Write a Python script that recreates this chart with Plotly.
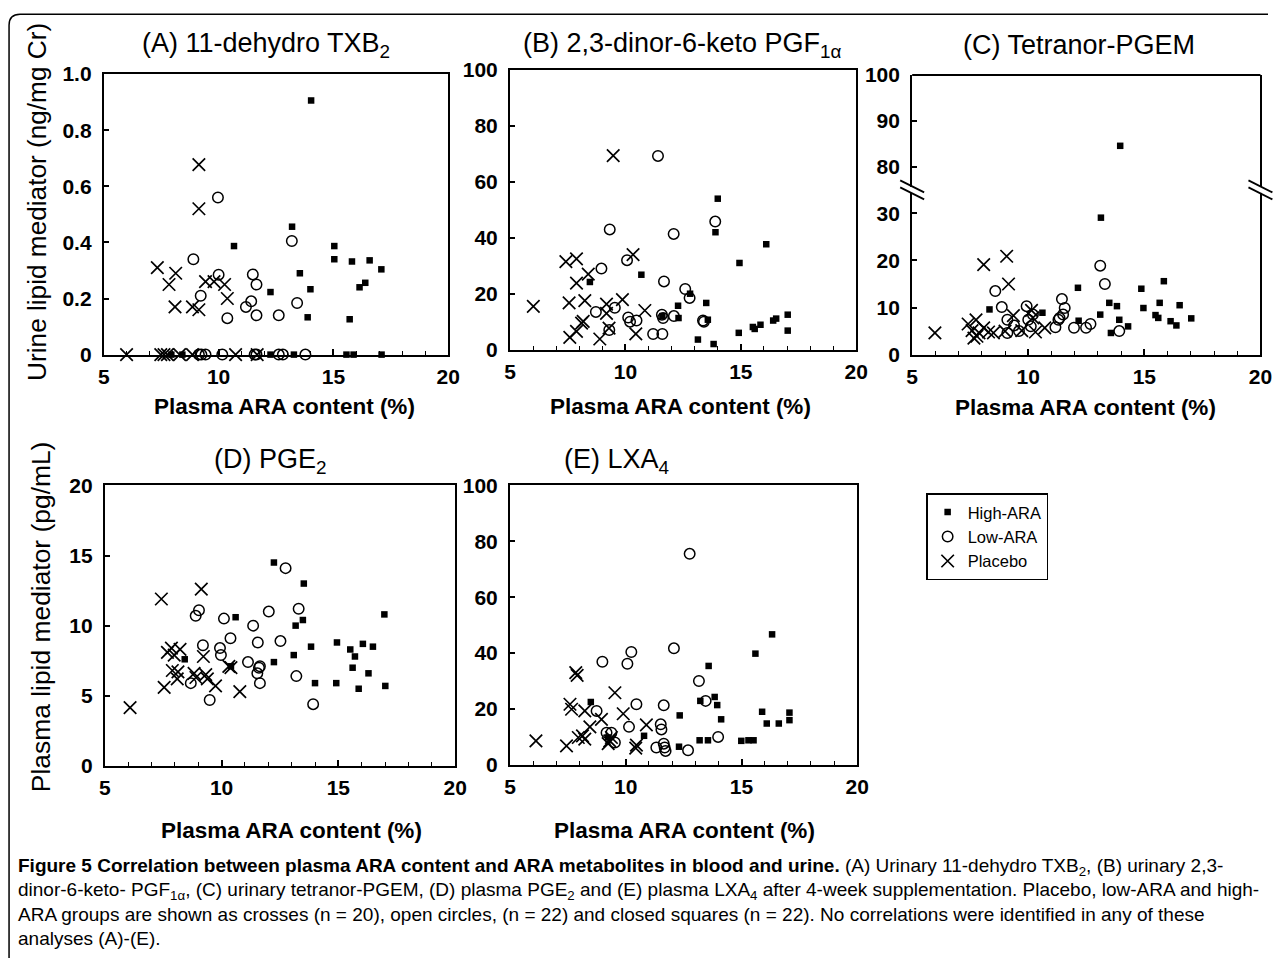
import plotly.graph_objects as go

W, H = 1280, 969

# ---------------- data ----------------
# (A) 11-dehydro TXB2 (ng/mg Cr)
A_placebo_x = [9.14, 9.14, 7.33, 7.84, 8.13, 8.10, 8.86, 9.14, 9.43, 9.80, 10.26, 10.38,
               5.99, 7.48, 7.62, 7.77, 8.30, 8.86, 10.74, 11.68]
A_placebo_y = [0.677, 0.52, 0.31, 0.25, 0.29, 0.17, 0.17, 0.16, 0.26, 0.26, 0.25, 0.20,
               0, 0, 0, 0, 0, 0, 0, 0]
A_low_x = [9.97, 8.90, 10.00, 9.22, 10.38, 11.49, 11.65, 11.42, 11.19, 11.65, 12.62, 13.19, 13.42,
           9.14, 9.43, 10.16, 11.57, 12.62, 12.80, 13.78, 9.25, 11.65]
A_low_y = [0.56, 0.34, 0.285, 0.21, 0.13, 0.286, 0.25, 0.19, 0.17, 0.14, 0.14, 0.405, 0.184,
           0, 0, 0, 0, 0, 0, 0, 0, 0]
A_high_x = [14.03, 10.67, 13.20, 12.26, 13.54, 14.00, 13.88, 15.04, 15.04, 15.71, 15.81, 16.58, 16.39,
            16.14, 17.09, 7.94, 8.42, 12.26, 13.28, 15.57, 15.88, 17.10]
A_high_y = [0.906, 0.387, 0.456, 0.223, 0.29, 0.233, 0.133, 0.387, 0.34, 0.126, 0.332, 0.336, 0.256,
            0.24, 0.304, 0, 0, 0, 0, 0, 0, 0]

# (B) 2,3-dinor-6-keto PGF1a
B_placebo_x = [9.47, 6.01, 7.42, 7.88, 7.88, 8.39, 7.56, 8.24, 7.59, 7.88, 8.17, 8.89, 9.18, 9.18,
               9.29, 9.87, 10.33, 10.84, 10.45, 8.10]
B_placebo_y = [69.4, 15.5, 31.5, 32.5, 23.8, 27.0, 16.7, 17.5, 4.4, 6.5, 10.1, 3.8, 16.3, 13.0,
               7.7, 17.9, 34.0, 14.0, 5.6, 9.5]
B_low_x = [11.41, 9.32, 8.96, 8.72, 9.54, 10.07, 10.12, 10.48, 11.67, 12.09, 12.59, 12.78, 11.58,
           11.63, 11.20, 11.60, 13.89, 13.36, 13.40, 10.20, 9.30, 12.10]
B_low_y = [69.3, 43.0, 29.0, 13.5, 15.0, 32.0, 11.5, 10.4, 24.4, 41.4, 21.7, 18.5, 12.5,
           11.3, 5.6, 5.6, 45.8, 10.4, 10.0, 10.0, 7.0, 12.0]
B_high_x = [14.00, 13.90, 16.10, 14.94, 10.69, 8.46, 12.28, 13.50, 12.30, 13.57, 13.14, 13.82,
            14.91, 15.52, 15.85, 16.53, 17.03, 17.03, 16.40, 15.60, 12.80, 11.60]
B_high_y = [54.0, 42.0, 37.7, 31.0, 26.8, 24.2, 15.7, 16.7, 11.3, 10.7, 3.6, 2.0,
            6.0, 8.1, 8.9, 11.1, 12.5, 6.8, 10.4, 7.4, 20.0, 12.0]

# (C) Tetranor-PGEM (broken axis 0-35 / 75-100)
C_placebo_x = [5.98, 8.08, 9.07, 9.15, 9.36, 7.41, 7.75, 7.58, 7.79, 8.08, 8.29, 7.88, 9.00, 9.72,
               10.14, 10.31, 10.71, 7.66, 8.50, 10.20]
C_placebo_y = [4.6, 19.1, 20.9, 15.0, 8.3, 6.5, 7.4, 5.1, 3.9, 5.7, 4.8, 4.6, 5.0, 5.1,
               9.4, 4.8, 5.7, 3.5, 4.6, 7.8]
C_low_x = [8.58, 8.86, 9.10, 9.10, 9.39, 9.93, 10.00, 10.11, 11.17, 11.35, 11.45, 11.57, 11.50,
           11.97, 12.49, 12.68, 13.10, 13.30, 13.92, 10.20, 11.30, 9.60]
C_low_y = [13.5, 10.1, 7.4, 4.6, 6.2, 10.3, 7.4, 6.0, 5.8, 7.8, 11.8, 9.9, 8.5,
           5.7, 5.7, 6.5, 18.9, 15.0, 5.0, 8.5, 7.4, 5.0]
C_high_x = [13.96, 13.13, 12.14, 12.17, 13.10, 13.49, 13.82, 13.92, 13.56, 14.87, 14.96, 15.84,
            15.66, 15.48, 16.13, 16.38, 16.52, 17.02, 8.33, 10.61, 15.60, 14.30]
C_high_y = [84.6, 29.1, 14.2, 7.2, 8.5, 11.0, 10.3, 7.4, 4.6, 14.0, 9.9, 15.6,
            11.0, 8.4, 7.1, 6.2, 10.5, 7.7, 9.6, 8.9, 7.8, 6.0]

# (D) PGE2 (pg/mL)
D_placebo_x = [6.08, 7.42, 7.54, 9.13, 7.68, 7.85, 7.97, 7.89, 8.13, 8.10, 8.82, 8.90, 9.22, 9.39,
               9.74, 10.31, 10.78, 8.22, 9.32, 10.40]
D_placebo_y = [4.15, 11.9, 5.6, 12.6, 8.1, 8.4, 7.9, 6.8, 6.7, 6.2, 6.6, 6.3, 7.8, 6.2,
               5.7, 7.1, 5.3, 8.3, 6.5, 7.0]
D_low_x = [12.74, 8.89, 9.03, 10.10, 11.35, 12.02, 13.30, 9.20, 9.93, 9.97, 10.38, 11.55, 12.52,
           8.68, 9.49, 11.13, 11.64, 11.53, 11.64, 13.20, 13.92, 11.60]
D_low_y = [14.1, 10.7, 11.1, 10.5, 10.0, 11.0, 11.2, 8.6, 8.4, 7.9, 9.1, 8.8, 8.9,
           5.9, 4.7, 7.4, 7.1, 6.6, 5.9, 6.4, 4.4, 7.0]
D_high_x = [12.24, 13.52, 10.60, 13.48, 13.17, 16.97, 13.83, 14.94, 15.51, 16.05, 16.48, 15.71,
            15.61, 16.29, 15.87, 17.01, 14.91, 14.00, 13.09, 12.24, 8.42, 10.40]
D_high_y = [14.5, 13.0, 10.6, 10.4, 10.0, 10.8, 8.5, 8.8, 8.3, 8.7, 8.5, 7.8,
            7.0, 6.6, 5.5, 5.7, 5.9, 5.9, 7.9, 7.4, 7.6, 7.1]

# (E) LXA4 (pg/mL)
E_placebo_x = [6.12, 7.44, 7.84, 7.90, 7.59, 7.66, 8.23, 8.45, 8.95, 9.53, 9.89, 7.95, 8.23, 9.31,
               9.24, 10.46, 10.43, 10.89, 8.13, 9.38]
E_placebo_y = [8.6, 6.8, 33.0, 32.0, 21.7, 19.9, 19.3, 13.6, 16.3, 25.8, 18.3, 9.8, 9.2, 8.6,
               7.6, 7.1, 6.0, 14.3, 10.4, 9.8]
E_low_x = [12.76, 8.99, 10.07, 10.24, 12.08, 13.16, 10.46, 11.64, 8.74, 9.17, 9.38, 9.53, 10.14,
           11.51, 11.54, 11.32, 11.68, 11.72, 12.69, 13.45, 13.99, 11.64]
E_low_y = [75.5, 36.9, 36.2, 40.4, 41.7, 30.0, 21.7, 21.3, 19.3, 11.5, 11.5, 8.0, 13.6,
           14.5, 12.7, 6.2, 6.2, 5.0, 5.2, 22.9, 10.0, 7.6]
E_high_x = [16.32, 15.60, 13.58, 13.84, 13.95, 14.12, 13.22, 8.49, 12.33, 10.79, 12.30, 13.19,
            13.55, 14.99, 15.52, 15.89, 16.09, 16.61, 17.07, 17.07, 9.24, 15.30]
E_high_y = [46.7, 39.8, 35.4, 24.3, 21.4, 16.3, 22.9, 22.5, 17.7, 10.4, 6.5, 8.8,
            8.8, 8.6, 8.8, 19.0, 14.8, 14.8, 18.7, 16.0, 9.8, 8.8]

panel_titles = ["(A) 11-dehydro TXB<sub>2</sub>", "(B) 2,3-dinor-6-keto PGF<sub>1\u03b1</sub>",
                "(C) Tetranor-PGEM", "(D) PGE<sub>2</sub>", "(E) LXA<sub>4</sub>"]
x_ticks = [5, 10, 15, 20]
A_yticks = [0, 0.2, 0.4, 0.6, 0.8, 1.0]
A_yticktext = ["0", "0.2", "0.4", "0.6", "0.8", "1.0"]
B_yticks = [0, 20, 40, 60, 80, 100]
C_low_yticks = [0, 10, 20, 30]
C_up_yticks = [80, 90, 100]
D_yticks = [0, 5, 10, 15, 20]
E_yticks = [0, 20, 40, 60, 80, 100]
group_names = ["High-ARA", "Low-ARA", "Placebo"]

# ---------------- helpers ----------------
FONT = "Liberation Sans, Arial, Helvetica, sans-serif"
# the page is rendered slightly shrunk/offset; map target screen pixels to paper fractions
SX, OX = 0.988, 5.0
SY, OY = 0.978, 10.0


def px(x):
    return (x / SX - OX) / W


def py(y):
    return 1 - (y / SY - OY) / H


fig = go.Figure()

styles = {
    "High-ARA": dict(symbol="square", size=6.5, color="black", line=dict(width=0)),
    "Low-ARA": dict(symbol="circle-open", size=10.5, color="black", line=dict(width=1.5, color="black")),
    "Placebo": dict(symbol="x-thin-open", size=12.5, color="black", line=dict(width=1.7, color="black")),
}

panel_data = [
    ("x", "y", [(A_high_x, A_high_y), (A_low_x, A_low_y), (A_placebo_x, A_placebo_y)]),
    ("x2", "y2", [(B_high_x, B_high_y), (B_low_x, B_low_y), (B_placebo_x, B_placebo_y)]),
    ("x3", None, [(C_high_x, C_high_y), (C_low_x, C_low_y), (C_placebo_x, C_placebo_y)]),
    ("x4", "y4", [(D_high_x, D_high_y), (D_low_x, D_low_y), (D_placebo_x, D_placebo_y)]),
    ("x5", "y5", [(E_high_x, E_high_y), (E_low_x, E_low_y), (E_placebo_x, E_placebo_y)]),
]

for pi, (xa, ya, groups) in enumerate(panel_data):
    for gi, (gx, gy) in enumerate(groups):
        name = group_names[gi]
        if ya is None:
            # broken axis: split into lower (0-35) and upper (75-100) axes
            lo = [(a, b) for a, b in zip(gx, gy) if b <= 35]
            hi = [(a, b) for a, b in zip(gx, gy) if b >= 75]
            for pts, yax in ((lo, "y3"), (hi, "y6")):
                if pts:
                    fig.add_trace(go.Scatter(
                        x=[p[0] for p in pts], y=[p[1] for p in pts], mode="markers",
                        marker=styles[name], xaxis=xa, yaxis=yax, showlegend=False,
                        legendgroup=name, name=name, cliponaxis=False))
        else:
            fig.add_trace(go.Scatter(
                x=gx, y=gy, mode="markers", marker=styles[name], xaxis=xa, yaxis=ya,
                name=name, legendgroup=name, showlegend=(pi == 0), cliponaxis=False))

tickfont = dict(family=FONT, size=21, color="black", weight="bold")


def xaxis_cfg(x0, x1, anchor):
    return dict(domain=[px(x0), px(x1)], anchor=anchor, range=[5, 20], tickvals=x_ticks,
                ticks="inside", ticklen=6, tickwidth=1.5, tickcolor="black",
                minor=dict(ticks="inside", ticklen=4, dtick=1, tickcolor="black", tickwidth=1),
                showline=True, linewidth=2, linecolor="black", mirror=True,
                showgrid=False, zeroline=False, tickfont=tickfont, ticklabelstandoff=2,
                fixedrange=True)


def yaxis_cfg(y_top, y_bot, anchor, rng, tv, tt=None, mirror=True):
    d = dict(domain=[py(y_bot), py(y_top)], anchor=anchor, range=rng, tickvals=tv,
             ticks="inside", ticklen=5, tickwidth=1.5, tickcolor="black",
             showline=True, linewidth=2, linecolor="black", mirror=mirror,
             showgrid=False, zeroline=False, tickfont=tickfont, ticklabelstandoff=6,
             fixedrange=True)
    if tt is not None:
        d["ticktext"] = tt
    return d


# panel boxes in target screen pixels (left, right, top, bottom)
A_box = (103, 448, 72, 353)
B_box = (510, 857, 68, 348)
C_box = (913, 1262, 73, 353)
C_break = 188
D_box = (104, 455, 484, 765)
E_box = (510, 858, 484, 764)

layout_axes = dict(
    xaxis=xaxis_cfg(A_box[0], A_box[1], "y"),
    yaxis=yaxis_cfg(A_box[2], A_box[3], "x", [0, 1], A_yticks, A_yticktext),
    xaxis2=xaxis_cfg(B_box[0], B_box[1], "y2"),
    yaxis2=yaxis_cfg(B_box[2], B_box[3], "x2", [0, 100], B_yticks),
    xaxis3=dict(xaxis_cfg(C_box[0], C_box[1], "y3"), mirror=False),
    yaxis3=yaxis_cfg(C_break, C_box[3], "x3", [0, 35], C_low_yticks),
    yaxis6=yaxis_cfg(C_box[2], C_break, "x3", [75, 100], C_up_yticks),
    xaxis4=xaxis_cfg(D_box[0], D_box[1], "y4"),
    yaxis4=yaxis_cfg(D_box[2], D_box[3], "x4", [0, 20], D_yticks),
    xaxis5=xaxis_cfg(E_box[0], E_box[1], "y5"),
    yaxis5=yaxis_cfg(E_box[2], E_box[3], "x5", [0, 100], E_yticks),
)

shapes = []
# top line of panel C frame
shapes.append(dict(type="line", xref="paper", yref="paper", x0=px(C_box[0]), x1=px(C_box[1]),
                   y0=py(C_box[2]), y1=py(C_box[2]), line=dict(color="black", width=2)))
# break marks on panel C
for xe in (C_box[0], C_box[1]):
    shapes.append(dict(type="rect", xref="paper", yref="paper", x0=px(xe - 3), x1=px(xe + 3),
                       y0=py(C_break + 3), y1=py(C_break - 3), fillcolor="white",
                       line=dict(width=0), layer="above"))
    for off in (-3.5, 3.5):
        shapes.append(dict(type="line", xref="paper", yref="paper",
                           x0=px(xe - 12), y0=py(C_break - 6 + off),
                           x1=px(xe + 12), y1=py(C_break + 6 + off),
                           line=dict(color="black", width=1.8), layer="above"))
# outer figure frame (left + top with rounded corner)
shapes.append(dict(type="path", xref="paper", yref="paper",
                   path=f"M {px(8)},{0} L {px(8)},{py(23)} Q {px(8)},{py(12)} {px(19)},{py(12)} L {1},{py(12)}",
                   line=dict(color="black", width=1.5)))

annotations = []
title_pos = [(265, 43), (683, 43), (1080, 43), (270, 460), (617, 460)]
for t, (tx, ty) in zip(panel_titles, title_pos):
    annotations.append(dict(text=t, x=px(tx), y=py(ty), xref="paper", yref="paper",
                            xanchor="center", yanchor="middle", showarrow=False,
                            font=dict(family=FONT, size=27, color="black")))
for tx, ty in [(284, 405), (681, 405), (1087, 406), (291, 830), (685, 830)]:
    annotations.append(dict(text="Plasma ARA content (%)", x=px(tx), y=py(ty), xref="paper",
                            yref="paper", xanchor="center", yanchor="middle", showarrow=False,
                            font=dict(family=FONT, size=22.5, color="black", weight="bold")))
annotations.append(dict(text="Urine lipid mediator (ng/mg Cr)", x=px(36), y=py(200), xref="paper",
                        yref="paper", xanchor="center", yanchor="middle", textangle=-90,
                        showarrow=False, font=dict(family=FONT, size=26.2, color="black")))
annotations.append(dict(text="Plasma lipid mediator (pg/mL)", x=px(40), y=py(615), xref="paper",
                        yref="paper", xanchor="center", yanchor="middle", textangle=-90,
                        showarrow=False, font=dict(family=FONT, size=26.4, color="black")))

caption_lines = [
    "<b>Figure 5 Correlation between plasma ARA content and ARA metabolites in blood and urine.</b> "
    "(A) Urinary 11-dehydro TXB<sub>2</sub>, (B) urinary 2,3-",
    "dinor-6-keto- PGF<sub>1\u03b1</sub>, (C) urinary tetranor-PGEM, (D) plasma PGE<sub>2</sub> and "
    "(E) plasma LXA<sub>4</sub> after 4-week supplementation. Placebo, low-ARA and high-",
    "ARA groups are shown as crosses (n = 20), open circles, (n = 22) and closed squares (n = 22). "
    "No correlations were identified in any of these",
    "analyses (A)-(E).",
]
for i, line in enumerate(caption_lines):
    annotations.append(dict(text=line, x=px(15), y=py(866 + 24 * i), xref="paper", yref="paper",
                            xanchor="left", yanchor="middle", showarrow=False, align="left",
                            font=dict(family=FONT, size=19, color="black")))

fig.update_layout(
    width=W, height=H, autosize=False,
    margin=dict(l=0, r=0, t=0, b=0),
    paper_bgcolor="white", plot_bgcolor="white",
    font=dict(family=FONT, color="black"),
    showlegend=True,
    legend=dict(x=px(927), y=py(492), xanchor="left", yanchor="top",
                bordercolor="black", borderwidth=1.5, bgcolor="white",
                font=dict(family=FONT, size=16.5, color="black"),
                tracegroupgap=0, itemwidth=30),
    shapes=shapes,
    annotations=annotations,
    **layout_axes,
)

fig.write_html("out.html")
